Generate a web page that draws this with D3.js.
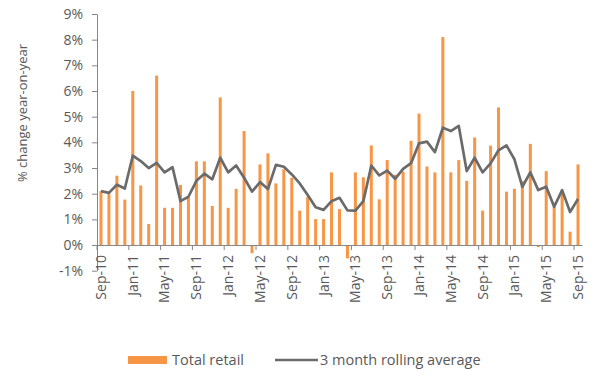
<html>
<head>
<script src="https://d3js.org/d3.v7.min.js"></script>
<style>
  body { margin: 0; background: #fff; }
  text { font-family: "Open Sans", Lato, sans-serif; fill: #595959; }
</style>
</head>
<body>
<svg width="600" height="376"></svg>
<script>
// months Sep-10 .. Sep-15
var months = ["Sep-10","Oct-10","Nov-10","Dec-10","Jan-11","Feb-11","Mar-11","Apr-11","May-11","Jun-11","Jul-11","Aug-11",
  "Sep-11","Oct-11","Nov-11","Dec-11","Jan-12","Feb-12","Mar-12","Apr-12","May-12","Jun-12","Jul-12","Aug-12",
  "Sep-12","Oct-12","Nov-12","Dec-12","Jan-13","Feb-13","Mar-13","Apr-13","May-13","Jun-13","Jul-13","Aug-13",
  "Sep-13","Oct-13","Nov-13","Dec-13","Jan-14","Feb-14","Mar-14","Apr-14","May-14","Jun-14","Jul-14","Aug-14",
  "Sep-14","Oct-14","Nov-14","Dec-14","Jan-15","Feb-15","Mar-15","Apr-15","May-15","Jun-15","Jul-15","Aug-15","Sep-15"]
var totalRetail = [2.1,2.0,2.7,1.77,6.0,2.32,0.82,6.6,1.45,1.45,2.34,1.86,
  3.26,3.26,1.52,5.75,1.45,2.19,4.44,-0.32,3.14,3.57,2.4,2.95,
  2.62,1.34,1.88,1.01,1.01,2.83,1.4,-0.52,2.83,2.64,3.88,1.78,
  3.31,2.74,2.86,4.06,5.12,3.06,2.83,8.1,2.83,3.31,2.5,4.19,
  1.34,3.87,5.36,2.08,2.19,2.49,3.94,-0.08,2.88,1.49,2.01,0.52,3.14]
var rollingAvg = [2.1,2.03,2.35,2.2,3.48,3.27,3.0,3.2,2.83,3.03,1.71,1.88,
  2.5,2.78,2.56,3.4,2.83,3.1,2.62,2.08,2.45,2.18,3.12,3.05,
  2.75,2.4,1.95,1.47,1.37,1.71,1.84,1.35,1.34,1.71,3.09,2.71,
  2.9,2.58,2.97,3.19,3.96,4.03,3.62,4.57,4.44,4.64,2.88,3.4,
  2.83,3.18,3.69,3.88,3.34,2.27,2.83,2.14,2.27,1.49,2.14,1.29,1.79]
var yTicks = [-1,0,1,2,3,4,5,6,7,8,9]
var xTickLabels = ["Sep-10","Jan-11","May-11","Sep-11","Jan-12","May-12","Sep-12","Jan-13","May-13",
  "Sep-13","Jan-14","May-14","Sep-14","Jan-15","May-15","Sep-15"]
var seriesNames = ["Total retail","3 month rolling average"]

var svg = d3.select("svg")
var x = d3.scaleBand().domain(months).range([97, 582]).paddingInner(0.62).paddingOuter(0.31)
var y = d3.scaleLinear().domain([-1, 9]).range([270.7, 14])

// y axis
var gy = svg.append("g").attr("transform", "translate(97,0)")
  .call(d3.axisLeft(y).tickValues(yTicks).tickFormat(function(d){ return d + "%" }).tickSize(5).tickSizeOuter(0).tickPadding(9))
gy.select(".domain").attr("stroke", "#868686")
gy.selectAll(".tick line").attr("stroke", "#868686")
gy.selectAll("text").style("font-size", "14px").attr("fill", "#595959")

// bars
svg.append("g").selectAll("rect").data(totalRetail).enter().append("rect")
  .attr("x", function(d,i){ return x(months[i]) })
  .attr("width", x.bandwidth())
  .attr("y", function(d){ return y(Math.max(d, 0)) })
  .attr("height", function(d){ return Math.abs(y(d) - y(0)) })
  .attr("fill", "#f79646")

// x axis
var gx = svg.append("g").attr("transform", "translate(0," + y(0) + ")")
  .call(d3.axisBottom(x).tickValues(xTickLabels).tickSize(0).tickSizeOuter(0))
gx.select(".domain").attr("stroke", "#868686")
gx.selectAll("text")
  .style("font-size", "14px").attr("fill", "#595959")
  .attr("transform", "rotate(-90)")
  .attr("text-anchor", "end")
  .attr("x", -10).attr("y", 0).attr("dy", "0.35em")
gx.selectAll(".tick").append("line")
  .attr("x1", -x.step() / 2).attr("x2", -x.step() / 2)
  .attr("y1", 0).attr("y2", 5)
  .attr("stroke", "#868686")
gx.selectAll(".tick").filter(function(d){ return d == "Sep-10" }).select("line").remove()

// rolling average line
var line = d3.line()
  .x(function(d,i){ return x(months[i]) + x.bandwidth() / 2 })
  .y(function(d){ return y(d) })
svg.append("path").datum(rollingAvg)
  .attr("d", line)
  .attr("fill", "none")
  .attr("stroke", "#6b6b6b")
  .attr("stroke-width", 2.7)
  .attr("stroke-linejoin", "round")

// y axis title
svg.append("text")
  .attr("transform", "translate(27,113) rotate(-90)")
  .attr("text-anchor", "middle")
  .style("font-size", "13px")
  .text("% change year-on-year")

// legend
var lg = svg.append("g").attr("transform", "translate(0,360)")
lg.append("rect").attr("x", 128).attr("y", -4).attr("width", 39).attr("height", 8).attr("fill", "#f79646")
lg.append("text").attr("x", 172).attr("y", 0).attr("dy", "0.35em").style("font-size", "14.5px").text(seriesNames[0])
lg.append("line").attr("x1", 275).attr("x2", 318).attr("y1", 0).attr("y2", 0)
  .attr("stroke", "#6b6b6b").attr("stroke-width", 2.7)
lg.append("text").attr("x", 320).attr("y", 0).attr("dy", "0.35em").style("font-size", "14.5px").text(seriesNames[1])
</script>
</body>
</html>
